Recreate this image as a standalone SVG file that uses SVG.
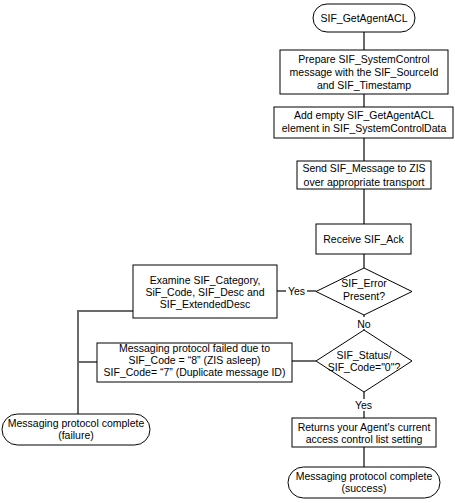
<svg xmlns="http://www.w3.org/2000/svg" width="455" height="503" viewBox="0 0 455 503">
<style>
  .shape { fill: #ffffff; stroke: #000000; stroke-width: 1; }
  .conn { fill: none; stroke: #6a6a6a; stroke-width: 2; }
  text { font-family: "Liberation Sans", Arial, sans-serif; font-size: 10.5px; fill: #000000; text-anchor: middle; }
  .lbl-bg { fill: #ffffff; stroke: none; }
</style>
<rect x="0" y="0" width="455" height="503" fill="#ffffff"/>
<g id="connectors">
  <path class="conn" d="M364,32 V50"/>
  <path class="conn" d="M364,94 V107"/>
  <path class="conn" d="M364,138 V161"/>
  <path class="conn" d="M364,189 V224"/>
  <path class="conn" d="M364,254 V268"/>
  <path class="conn" d="M316,291 H277"/>
  <path class="conn" d="M364,315 V330"/>
  <path class="conn" d="M133,311 H78 V414"/>
  <path class="conn" d="M316,361 H292"/>
  <path class="conn" d="M97,362 H78"/>
  <path class="conn" d="M364,392 V418"/>
  <path class="conn" d="M364,447 V467"/>
  <rect class="lbl-bg" x="286" y="285" width="21" height="12"/>
  <text x="296.5" y="295">Yes</text>
  <rect class="lbl-bg" x="356" y="317" width="16" height="12"/>
  <text x="364" y="327.5">No</text>
  <rect class="lbl-bg" x="353" y="399" width="21" height="12"/>
  <text x="363.5" y="409">Yes</text>
</g>
<g id="start">
  <rect class="shape" x="313" y="4" width="102" height="28" rx="14" ry="14"/>
  <text x="364" y="21.7">SIF_GetAgentACL</text>
</g>
<g id="prepare">
  <rect class="shape" x="280" y="50" width="168" height="44"/>
  <text x="364" y="62.7">Prepare SIF_SystemControl</text>
  <text x="364" y="75.7">message with the SIF_SourceId</text>
  <text x="364" y="88.7">and SIF_Timestamp</text>
</g>
<g id="add">
  <rect class="shape" x="274" y="107" width="179" height="31"/>
  <text x="364" y="119">Add empty SIF_GetAgentACL</text>
  <text x="364" y="132">element in SIF_SystemControlData</text>
</g>
<g id="send">
  <rect class="shape" x="297" y="161" width="134" height="28"/>
  <text x="364" y="172">Send SIF_Message to ZIS</text>
  <text x="364" y="185.5">over appropriate transport</text>
</g>
<g id="receive">
  <rect class="shape" x="316" y="224" width="95" height="30"/>
  <text x="363.5" y="242.7">Receive SIF_Ack</text>
</g>
<g id="error-decision">
  <polygon class="shape" points="364,268 412,291.5 364,315 316,291.5"/>
  <text x="364" y="287">SIF_Error</text>
  <text x="364" y="300">Present?</text>
</g>
<g id="examine">
  <rect class="shape" x="133" y="265" width="144" height="53"/>
  <text x="205" y="283.7">Examine SIF_Category,</text>
  <text x="205" y="295.7">SiF_Code, SIF_Desc and</text>
  <text x="205" y="307.7">SIF_ExtendedDesc</text>
</g>
<g id="status-decision">
  <polygon class="shape" points="364,330 412,361 364,392 316,361"/>
  <text x="364" y="359">SIF_Status/</text>
  <text x="364" y="371">SIF_Code="0"?</text>
</g>
<g id="failed">
  <rect class="shape" x="97" y="343" width="195" height="39"/>
  <text x="194.5" y="351.7">Messaging protocol failed due to</text>
  <text x="194.5" y="363.7">SIF_Code = “8” (ZIS asleep)</text>
  <text x="194.5" y="375.7">SIF_Code= “7” (Duplicate message ID)</text>
</g>
<g id="failure-end">
  <rect class="shape" x="2" y="414" width="148" height="31" rx="15.5" ry="15.5"/>
  <text x="76" y="426.7">Messaging protocol complete</text>
  <text x="76" y="438.7">(failure)</text>
</g>
<g id="returns">
  <rect class="shape" x="292" y="418" width="144" height="29"/>
  <text x="364" y="430.5">Returns your Agent's current</text>
  <text x="364" y="442.5">access control list setting</text>
</g>
<g id="success-end">
  <rect class="shape" x="288" y="467" width="152" height="31" rx="15.5" ry="15.5"/>
  <text x="364" y="479.7">Messaging protocol complete</text>
  <text x="364" y="491.7">(success)</text>
</g>
</svg>
